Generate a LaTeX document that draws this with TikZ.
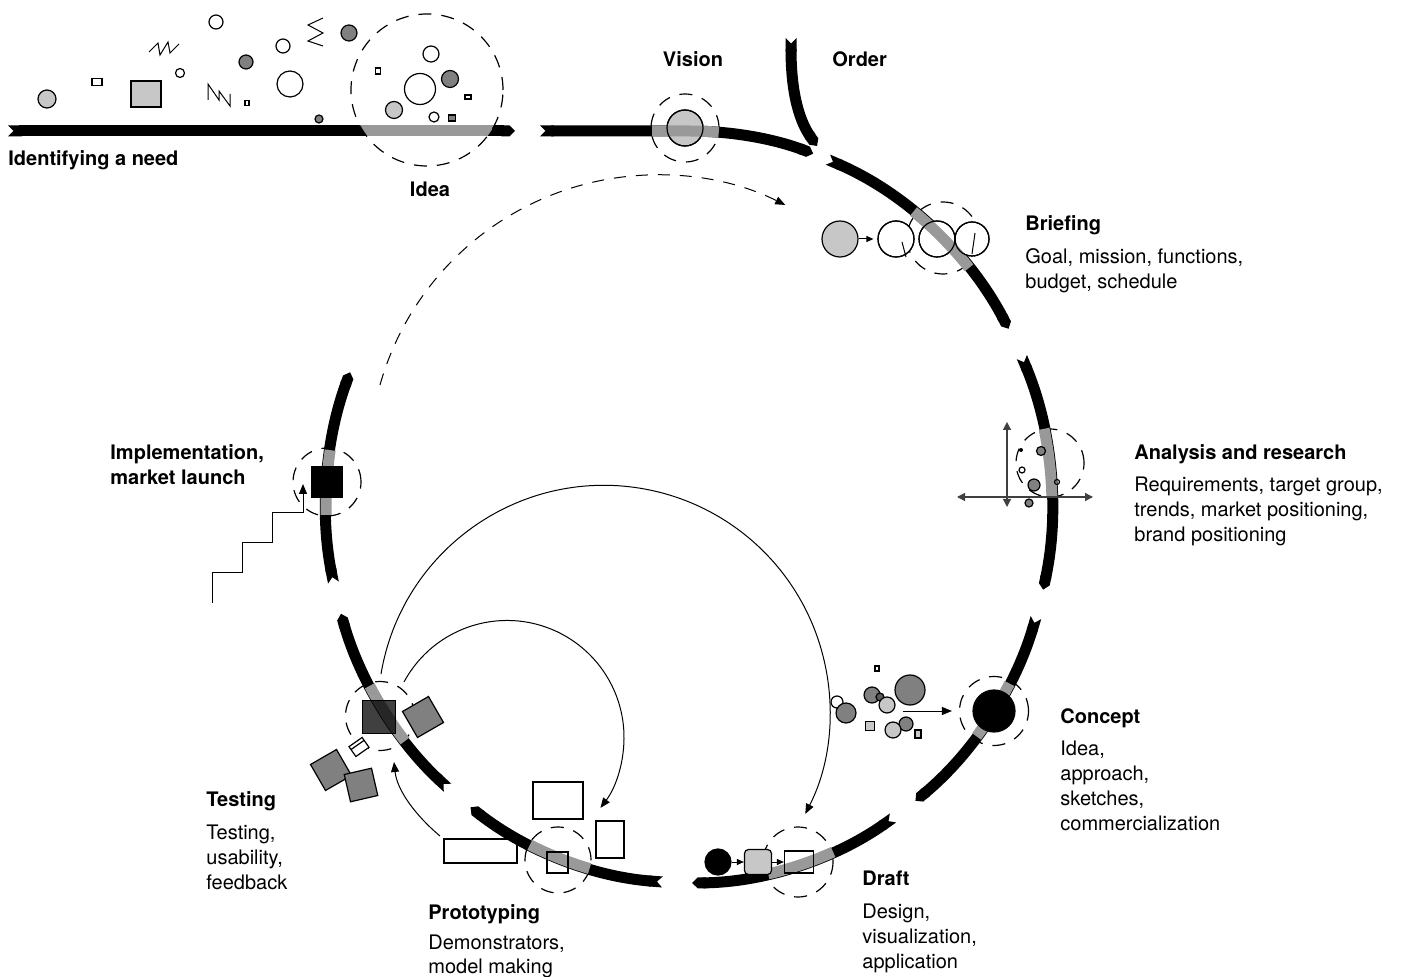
\documentclass[tikz,border=0pt]{standalone}
\usepackage{fontspec}
\setmainfont{TeX Gyre Heros}
\usetikzlibrary{arrows.meta}
\definecolor{bandgray}{gray}{0.6}
\definecolor{lightfill}{gray}{0.78}
\definecolor{darkfill}{gray}{0.5}
\tikzset{
  ell/.style={x radius=363,y radius=376},
  seg/.style={line width=5.5pt,{Triangle Cap[reversed]}-{Triangle Cap}},
  band/.style={line width=5.5pt,draw=bandgray},
  ring/.style={circle,draw,dash pattern=on 6.5pt off 5pt,line width=0.6pt,inner sep=0pt},
  dot/.style={circle,draw,line width=0.6pt,inner sep=0pt},
  box/.style={rectangle,draw,line width=0.6pt,inner sep=0pt},
  icon/.style={draw,line width=0.6pt},
  flow/.style={line width=0.5pt,-{Triangle[length=5pt,width=4pt]}},
  nudge/.style={line width=0.5pt,-{Triangle[length=3.5pt,width=3pt]}},
  axis/.style={line width=0.6pt,draw=black!75,{Triangle[length=4pt,width=4pt]}-{Triangle[length=4pt,width=4pt]}},
  title/.style={font=\bfseries,inner sep=0pt},
  body/.style={align=left,inner sep=0pt}
}

\begin{document}
\fontsize{10}{12.5}\selectfont
\begin{tikzpicture}[x=0.5pt,y=-0.5pt]
\useasboundingbox (0,0) rectangle (1402,977);

% need line and idea
\draw[seg] (8,131) -- (515,131);
\begin{scope}
  \clip (427,90) circle[radius=76];
  \draw[band] (340,131) -- (520,131);
\end{scope}
\node[ring,minimum size=76pt] (idearing) at (427,90) {};

\draw[icon,fill=lightfill] (47,99) circle[radius=9];
\draw[icon] (92,78.5) rectangle (102,85.5);
\draw[icon,fill=lightfill] (131,81) rectangle (161,107);
\draw[line width=0.5pt] (149,52) -- (158,43) -- (160,55) -- (168,42) -- (170,53) -- (179,44);
\draw[icon] (216,22) circle[radius=7];
\draw[icon] (180,73) circle[radius=4.5];
\draw[icon,fill=darkfill] (246,62) circle[radius=7];
\draw[line width=0.5pt] (208,100) -- (208,84) -- (219,100) -- (219,91) -- (230,106) -- (230,94);
\draw[icon] (245,100.5) rectangle (249,105.5);
\draw[icon] (283,46) circle[radius=7];
\draw[icon] (290,84) circle[radius=13];
\draw[line width=0.5pt] (323,18) -- (308,25) -- (323,33) -- (308,41) -- (323,46);
\draw[icon,fill=darkfill] (349,33) circle[radius=8];
\draw[icon,fill=darkfill] (319,119) circle[radius=4];

\draw[icon] (431,54) circle[radius=8];
\draw[icon] (420,89) circle[radius=15.5];
\draw[icon,fill=darkfill] (450,79) circle[radius=8.5];
\draw[icon,fill=lightfill] (394,110) circle[radius=8.5];
\draw[icon] (434,117) circle[radius=5];
\draw[icon,fill=darkfill] (448.5,115) rectangle (455.5,121);
\draw[icon] (375.5,68) rectangle (380.5,74);
\draw[icon] (465,95) rectangle (471,99);

% the loop
\begin{scope}[shift={(689,507)}]
  \draw[seg] (-149,-376) -- (0,-376) arc[ell,start angle=-90,end angle=-70];
  \foreach \a/\b in {-67.5/-28.3,-23.5/12.7,17.1/51.4,55.8/89.5,94.2/127,131.7/163.5,168.4/201}
    \draw[seg] (\a:363 and 376) arc[ell,start angle=\a,end angle=\b];
\end{scope}
\draw[seg] (791,38) .. controls (791,95) and (800,122) .. (817,146);

\node[ring,minimum size=34pt] (visionring) at (685,128) {};
\node[ring,minimum size=36pt] (briefring) at (943,238) {};
\node[ring,minimum size=34pt] (anaring) at (1050,463) {};
\node[ring,minimum size=34.5pt] (conring) at (994,711) {};
\node[ring,minimum size=35pt] (draftring) at (798,862) {};
\node[ring,minimum size=33pt] (protoring) at (558,860) {};
\node[ring,minimum size=34.5pt] (testring) at (380,716) {};
\node[ring,minimum size=34pt] (implring) at (327,482) {};

\node[dot,fill=lightfill,minimum size=18pt] (visiondot) at (685,128) {};
\node[dot,fill=lightfill,minimum size=18pt] (brief0) at (840,239) {};
\node[dot,fill=white,minimum size=18pt] (brief1) at (896,239) {};
\node[dot,fill=white,minimum size=18pt] (brief2) at (937,239) {};
\node[dot,fill=white,minimum size=17pt] (brief3) at (972,239) {};

\begin{scope}[shift={(689,507)}]
  \draw[band] (-37,-376) -- (0,-376) arc[ell,start angle=-90,end angle=-85.3];
  \foreach \a/\b in {-51.8/-39.5,-12/-1.5,28/37.6,66.6/77.4,105.9/116,141.5/151.6,178.8/188.7}
    \draw[band] (\a:363 and 376) arc[ell,start angle=\a,end angle=\b];
\end{scope}

% vision, briefing
\draw[icon] (685,128) circle[radius=18];
\foreach \p in {896,937} \draw[icon] (\p,239) circle[radius=18];
\draw[icon] (972,239) circle[radius=17];
\draw[line width=0.5pt] (902,242) -- (906,257);
\draw[line width=0.5pt] (975,233) -- (972,254);
\draw[nudge,shorten >=2pt] (brief0) -- (brief1);

% analysis
\draw[axis] (1007,507) -- (1007,422);
\draw[axis] (957,497) -- (1093,497);
\draw[icon,fill=darkfill] (1041,451) circle[radius=4.5];
\fill (1021,450) circle[radius=2];
\draw[icon] (1022,470) circle[radius=3];
\draw[icon,fill=darkfill] (1034,485) circle[radius=6];
\draw[icon] (1057,482) circle[radius=2.5];
\draw[icon,fill=darkfill] (1029,503) circle[radius=4];

% concept
\node[dot,fill=black,minimum size=21pt] (condot) at (994,711) {};
\draw[icon] (837,702) circle[radius=6];
\draw[icon,fill=darkfill] (846,713) circle[radius=10];
\draw[icon] (875,666) rectangle (879,671);
\draw[icon,fill=darkfill] (872,695) circle[radius=8];
\draw[icon,fill=darkfill!70!black] (880,697) circle[radius=4];
\draw[icon,fill=lightfill] (887,705) circle[radius=8];
\draw[icon,fill=darkfill] (910,690) circle[radius=15];
\draw[icon,fill=lightfill] (865.5,721.5) rectangle (874.5,730.5);
\draw[icon,fill=darkfill] (906,724) circle[radius=7];
\draw[icon,fill=lightfill] (893,730) circle[radius=8];
\draw[icon,fill=lightfill] (915,730) rectangle (921,738);
\coordinate (conin) at (903,711);
\draw[flow,shorten >=3.5pt] (conin) -- (conring);

% draft
\node[dot,fill=black,minimum size=13pt] (draft0) at (718,862) {};
\node[box,fill=lightfill,rounded corners=2pt,minimum width=13.5pt,minimum height=12.5pt] (draft1) at (758,862) {};
\node[box,minimum width=14.5pt,minimum height=11pt] (draft2) at (799,862) {};
\draw[nudge] (draft0) -- (draft1);
\draw[nudge] (draft1) -- (draft2);

% prototyping
\draw[icon] (533,782) rectangle (583,819);
\draw[icon] (596,821) rectangle (624,858);
\draw[icon] (444,839) rectangle (517,863);
\draw[icon] (547,852) rectangle (568,873);

% testing
\draw[icon,fill=darkfill,rotate around={30:(423,717)}] (408,702) rectangle (438,732);
\draw[icon,fill=darkfill,rotate around={30:(331,770)}] (316,755) rectangle (346,785);
\draw[icon,fill=darkfill,rotate around={13:(361,785)}] (347,771) rectangle (375,799);
\draw[icon,fill=white,rotate around={35:(359,747)}] (351,741) rectangle (367,753) (351,744.5) -- (367,744.5);
\node[box,fill=black,fill opacity=0.75,minimum size=16.5pt] (testsq) at (379,717) {};

% implementation
\node[box,fill=black,minimum size=15.5pt] (implsq) at (327,482) {};
\draw[flow] (212,603) |- (242,573) |- (272,543) |- (303,513) -- (303,484);

% feedback arcs
\coordinate (loopA) at (381,674);
\coordinate (loopB) at (404,682);
\coordinate (protoout) at (440,836);
\coordinate (launch) at (380,385);
\draw[flow] (loopA) arc[start angle=189.5,end angle=387,radius=226];
\draw[flow] (loopB) arc[start angle=208.3,end angle=397,radius=117];
\draw[flow] (protoout) .. controls (415,815) and (397,790) .. (394,762);
\draw[flow,dash pattern=on 6pt off 5pt] (launch) arc[start angle=195.7,end angle=296.4,radius=288];

% labels
\node[title,anchor=north west] (needlbl) at (8,150) {Identifying a need};
\node[title,anchor=north] (idealbl) at (430,182) {Idea};
\node[title,anchor=north] (visionlbl) at (693,51) {Vision};
\node[title,anchor=north west] (orderlbl) at (832,51) {Order};
\node[title,anchor=north west] (brieflbl) at (1025,215) {Briefing};
\node[body,anchor=north west] (brieftxt) at (1025,248) {Goal, mission, functions,\\budget, schedule};
\node[title,anchor=north west] (analbl) at (1134,444) {Analysis and research};
\node[body,anchor=north west] (anatxt) at (1134,477) {Requirements, target group,\\trends, market positioning,\\brand positioning};
\node[title,anchor=north west] (conlbl) at (1060,708) {Concept};
\node[body,anchor=north west] (contxt) at (1060,741) {Idea,\\approach,\\sketches,\\commercialization};
\node[title,anchor=north west] (draftlbl) at (862,871) {Draft};
\node[body,anchor=north west] (drafttxt) at (862,904) {Design,\\visualization,\\application};
\node[title,anchor=north west] (protolbl) at (428,904) {Prototyping};
\node[body,anchor=north west,font={\fontsize{10}{11.8}\selectfont}] (prototxt) at (428,935) {Demonstrators,\\model making};
\node[title,anchor=north west] (testlbl) at (206,791) {Testing};
\node[body,anchor=north west] (testtxt) at (206,825) {Testing,\\usability,\\feedback};
\node[title,align=left,anchor=north west] (impllbl) at (110,444) {Implementation,\\market launch};
\end{tikzpicture}
\end{document}
